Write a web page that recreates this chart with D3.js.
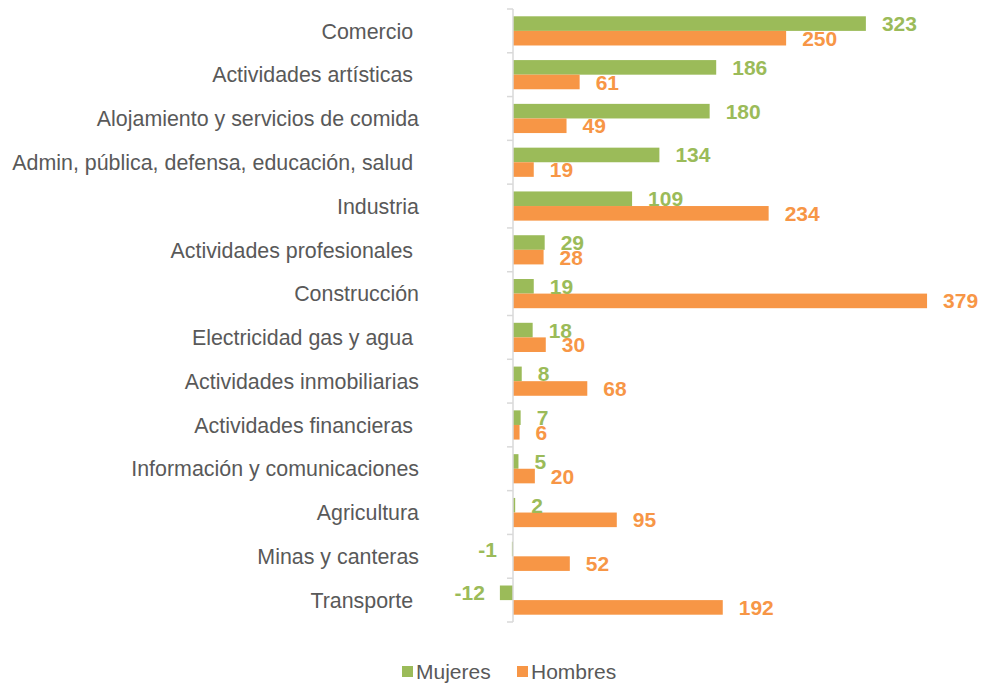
<!DOCTYPE html>
<html>
<head>
<meta charset="utf-8">
<script src="https://cdn.jsdelivr.net/npm/d3@7"></script>
<style>
  body { margin: 0; background: #fff; }
  text { font-family: "Liberation Sans", Arial, sans-serif; }
</style>
</head>
<body>
<div id="chart"></div>
<script>
// Data
const categories = [
    "Comercio ",
    "Actividades artísticas ",
    "Alojamiento y servicios de comida",
    "Admin, pública, defensa, educación, salud ",
    "Industria",
    "Actividades profesionales ",
    "Construcción",
    "Electricidad gas y agua ",
    "Actividades inmobiliarias",
    "Actividades financieras ",
    "Información y comunicaciones",
    "Agricultura",
    "Minas y canteras",
    "Transporte "
];
const mujeres = [323, 186, 180, 134, 109, 29, 19, 18, 8, 7, 5, 2, -1, -12];
const hombres = [250, 61, 49, 19, 234, 28, 379, 30, 68, 6, 20, 95, 52, 192];
const seriesNames = ["Mujeres", "Hombres"];

const GREEN = "#9bbb59";
const ORANGE = "#f79646";
const TEXT_COLOR = "#595959";

const width = 981;
const height = 684;

const svg = d3.select("#chart")
    .append("svg")
    .attr("width", width)
    .attr("height", height);

// Scales
const x = d3.scaleLinear()
    .domain([0, 400])
    .range([513, 950]);

const y = d3.scaleBand()
    .domain(categories)
    .range([9, 622])
    .padding(0);

const ySub = d3.scaleBand()
    .domain(seriesNames)
    .range([0, y.bandwidth()])
    .paddingInner(0)
    .paddingOuter(0.5);

const rows = categories.map((c, i) => ({
    category: c,
    values: [
        { series: "Mujeres", value: mujeres[i], color: GREEN },
        { series: "Hombres", value: hombres[i], color: ORANGE }
    ]
}));

// Bars
const groups = svg.selectAll(".row")
    .data(rows)
    .enter()
    .append("g")
    .attr("class", "row")
    .attr("transform", d => `translate(0, ${y(d.category)})`);

groups.selectAll("rect")
    .data(d => d.values)
    .enter()
    .append("rect")
    .attr("x", d => x(Math.min(0, d.value)))
    .attr("y", d => ySub(d.series))
    .attr("width", d => Math.abs(x(d.value) - x(0)))
    .attr("height", ySub.bandwidth())
    .attr("fill", d => d.color);

// Value labels
groups.selectAll(".val")
    .data(d => d.values)
    .enter()
    .append("text")
    .attr("class", "val")
    .attr("x", d => d.value < 0 ? x(d.value) - 15 : x(d.value) + 16)
    .attr("y", d => ySub(d.series) + ySub.bandwidth() / 2)
    .attr("dy", "0.36em")
    .attr("text-anchor", d => d.value < 0 ? "end" : "start")
    .attr("fill", d => d.color)
    .style("font-size", "21px")
    .style("font-weight", "bold")
    .text(d => d.value);

// Axis line and ticks at category boundaries
const axisG = svg.append("g");
axisG.append("line")
    .attr("x1", x(0)).attr("x2", x(0))
    .attr("y1", y.range()[0]).attr("y2", y.range()[1])
    .attr("stroke", "#d9d9d9")
    .attr("stroke-width", 1.5);

const boundaries = categories.map(c => y(c)).concat([y.range()[1]]);
axisG.selectAll(".tick")
    .data(boundaries)
    .enter()
    .append("line")
    .attr("class", "tick")
    .attr("x1", x(0) - 6).attr("x2", x(0))
    .attr("y1", d => d).attr("y2", d => d)
    .attr("stroke", "#d9d9d9")
    .attr("stroke-width", 1.5);

// Category labels
svg.selectAll(".cat")
    .data(categories)
    .enter()
    .append("text")
    .attr("class", "cat")
    .attr("x", 419)
    .attr("y", d => y(d) + y.bandwidth() / 2)
    .attr("dy", "0.36em")
    .attr("text-anchor", "end")
    .attr("fill", TEXT_COLOR)
    .style("font-size", "21.4px")
    .style("white-space", "pre")
    .text(d => d);

// Legend
const legendItems = [
    { name: "Mujeres", color: GREEN, x: 402 },
    { name: "Hombres", color: ORANGE, x: 517 }
];
const legend = svg.selectAll(".legend")
    .data(legendItems)
    .enter()
    .append("g")
    .attr("class", "legend")
    .attr("transform", d => `translate(${d.x}, 666)`);

legend.append("rect")
    .attr("width", 11)
    .attr("height", 11)
    .attr("fill", d => d.color);

legend.append("text")
    .attr("x", 14)
    .attr("y", 5.5)
    .attr("dy", "0.36em")
    .attr("fill", TEXT_COLOR)
    .style("font-size", "21px")
    .text(d => d.name);
</script>
</body>
</html>
